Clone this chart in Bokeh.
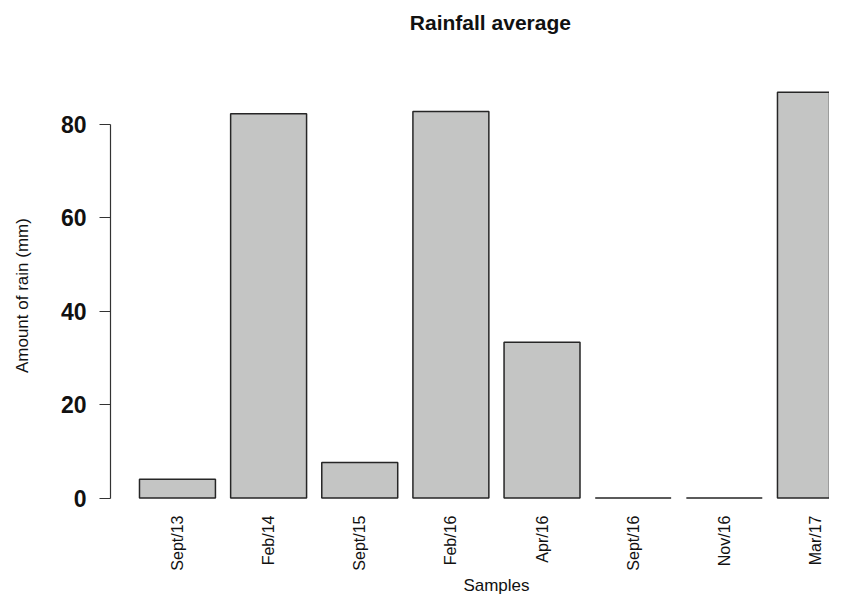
import math
from bokeh.plotting import figure
from bokeh.models import FixedTicker, Range1d, Label
from bokeh.embed import file_html
from bokeh.resources import INLINE

# ---- data ----
samples = ["Sept/13", "Feb/14", "Sept/15", "Feb/16", "Apr/16", "Sept/16", "Nov/16", "Mar/17"]
rain_mm = [4.0, 82.2, 7.6, 82.7, 33.3, 0.0, 0.0, 86.8]
y_ticks = [0, 20, 40, 60, 80]
title_text = "Rainfall average"
x_label = "Samples"
y_label = "Amount of rain (mm)"

# barplot-like positions (width 1, space 0.2)
centers = [0.7 + 1.2 * i for i in range(len(samples))]

FONT = "Liberation Sans"
INK = "#111111"

# frame covers the whole canvas; axes are placed at fixed locations inside it
p = figure(width=829, height=594, output_backend="svg", toolbar_location=None,
           x_range=Range1d(-1.630, 9.285), y_range=Range1d(-20.64, 106.42),
           min_border_left=0, min_border_right=0, min_border_top=0, min_border_bottom=0)
p.outline_line_color = None
p.xgrid.visible = False
p.ygrid.visible = False
p.background_fill_color = "white"
p.border_fill_color = "white"

p.vbar(x=centers, top=rain_mm, bottom=0, width=1.0,
       fill_color="#c4c5c4", line_color="#262626", line_width=1.5)

# y axis
ya = p.yaxis[0]
ya.fixed_location = -0.1817
ya.ticker = FixedTicker(ticks=y_ticks)
ya.bounds = (min(y_ticks), max(y_ticks))
ya.minor_tick_line_color = None
ya.major_tick_in = 0
ya.major_tick_out = 11
ya.major_tick_line_color = "#333333"
ya.axis_line_color = "#333333"
ya.axis_line_width = 1.2
ya.major_tick_line_width = 1.2
ya.major_label_standoff = 13
ya.major_label_text_font = FONT
ya.major_label_text_font_style = "bold"
ya.major_label_text_font_size = "23px"
ya.major_label_text_color = INK

# x axis
xa = p.xaxis[0]
xa.fixed_location = -3.53
xa.ticker = FixedTicker(ticks=centers)
xa.major_label_overrides = {c: s for c, s in zip(centers, samples)}
xa.major_label_orientation = math.pi / 2
xa.axis_line_color = None
xa.major_tick_line_color = None
xa.minor_tick_line_color = None
xa.major_tick_out = 0
xa.major_tick_in = 0
xa.major_label_standoff = 1
xa.major_label_text_font = FONT
xa.major_label_text_font_size = "16px"
xa.major_label_text_color = INK

# title, axis titles
p.add_layout(Label(x=4.82, y=101.71, text=title_text, text_align="center",
                   text_baseline="alphabetic", text_font=FONT, text_font_style="bold",
                   text_font_size="21px", text_color=INK))
p.add_layout(Label(x=4.90, y=-18.71, text=x_label, text_align="center",
                   text_baseline="alphabetic", text_font=FONT,
                   text_font_size="17px", text_color=INK))
p.add_layout(Label(x=-1.340, y=43.3, text=y_label, text_align="center",
                   text_baseline="middle", angle=math.pi / 2, text_font=FONT,
                   text_font_size="17px", text_color=INK))

open("out.html", "w").write(file_html(p, INLINE))
